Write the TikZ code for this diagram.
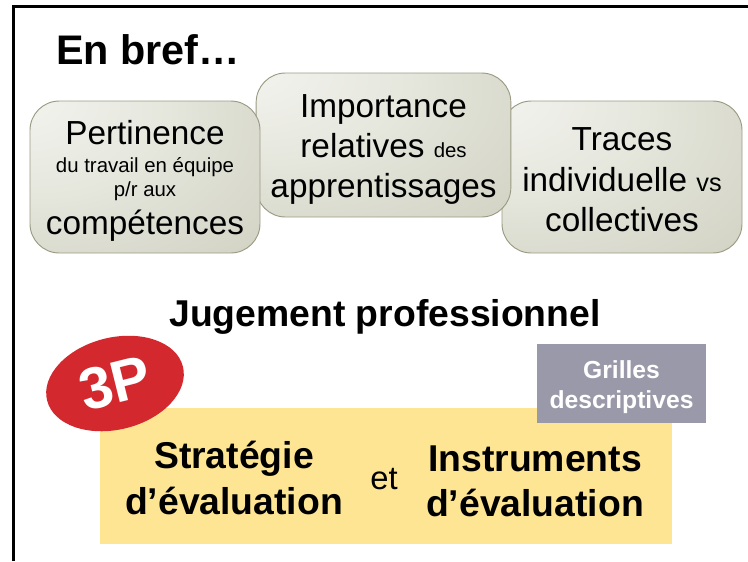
\documentclass[tikz,border=0pt]{standalone}
\usepackage{fontspec}
\setmainfont{Liberation Sans}
\usetikzlibrary{shapes.geometric}
\definecolor{boxlight}{HTML}{F6F6F3}
\definecolor{boxmid}{HTML}{E5E6DC}
\definecolor{boxdark}{HTML}{C8C9B7}
\definecolor{boxline}{HTML}{9A9B82}
\definecolor{paleyellow}{HTML}{FDE594}
\definecolor{badgered}{HTML}{D2282E}
\definecolor{slategrey}{HTML}{9999A9}
\pgfdeclareradialshading{boxglow}{\pgfpoint{-32bp}{30bp}}{color(0bp)=(boxlight); color(28bp)=(boxmid); color(70bp)=(boxdark); color(100bp)=(boxdark)}
\newcommand{\bigsize}{\fontsize{25}{29}\selectfont}
\newcommand{\smallsize}{\fontsize{15.3}{18}\selectfont}
\newcommand{\headsize}{\fontsize{28}{34}\selectfont}
\begin{document}
\begin{tikzpicture}[x=0.75pt,y=-0.75pt]
    \tikzstyle{topic} = [rectangle, draw=boxline, rounded corners=22pt, shading=boxglow, inner sep=0pt, align=center, font=\bigsize, line width=0.7pt]
    \tikzstyle{heading} = [inner sep=0pt, align=center, font=\headsize\bfseries]
    \useasboundingbox (0,0) rectangle (748,561);
    \draw[line width=1.6pt] (13.5,561) -- (13.5,6.5) -- (748,6.5);
    \node[inner sep=0pt, font=\fontsize{31}{34}\selectfont\bfseries] (title) at (148,50) {En bref…};
    \node[topic, minimum width=180pt, minimum height=114pt] (traces) at (622,177) {\rule{0pt}{21.5pt}Traces\\[1.4pt]individuelle {\fontsize{19}{22}\selectfont vs}\\[1.4pt]collectives};
    \node[topic, minimum width=191pt, minimum height=108pt] (importance) at (383.5,145) {\rule{0pt}{24pt}Importance\\[0.8pt]relatives {\smallsize des}\\[0.8pt]apprentissages};
    \node[topic, minimum width=172.5pt, minimum height=114pt] (pertinence) at (145,177) {\rule{0pt}{24pt}Pertinence\\[-8pt]{\smallsize du travail en équipe}\\[-10.5pt]{\smallsize p/r aux}\\[-0.5pt]compétences};
    \node[inner sep=0pt, font=\fontsize{28}{32}\selectfont\bfseries] (jugement) at (385,317) {Jugement professionnel};
    \node[fill=paleyellow, minimum width=429pt, minimum height=102pt, inner sep=0pt] (band) at (386,476) {};
    \node[heading] (strategie) at (234,478) {Stratégie\\d’évaluation};
    \node[inner sep=0pt, font=\fontsize{24.6}{29}\selectfont] (et) at (384,479) {et};
    \node[heading] (instruments) at (535,481) {Instruments\\d’évaluation};
    \node[fill=slategrey, text=white, minimum width=127pt, minimum height=59pt, inner sep=0pt, align=center, font=\fontsize{18.5}{23}\selectfont\bfseries] (grilles) at (621.5,383.5) {\rule{0pt}{19pt}Grilles\\descriptives};
    \node[ellipse, fill=badgered, text=white, minimum width=105pt, minimum height=69pt, inner sep=0pt, rotate=14, font=\fontsize{44}{48}\selectfont\bfseries] (badge) at (115,383.5) {3P};
\end{tikzpicture}
\end{document}
